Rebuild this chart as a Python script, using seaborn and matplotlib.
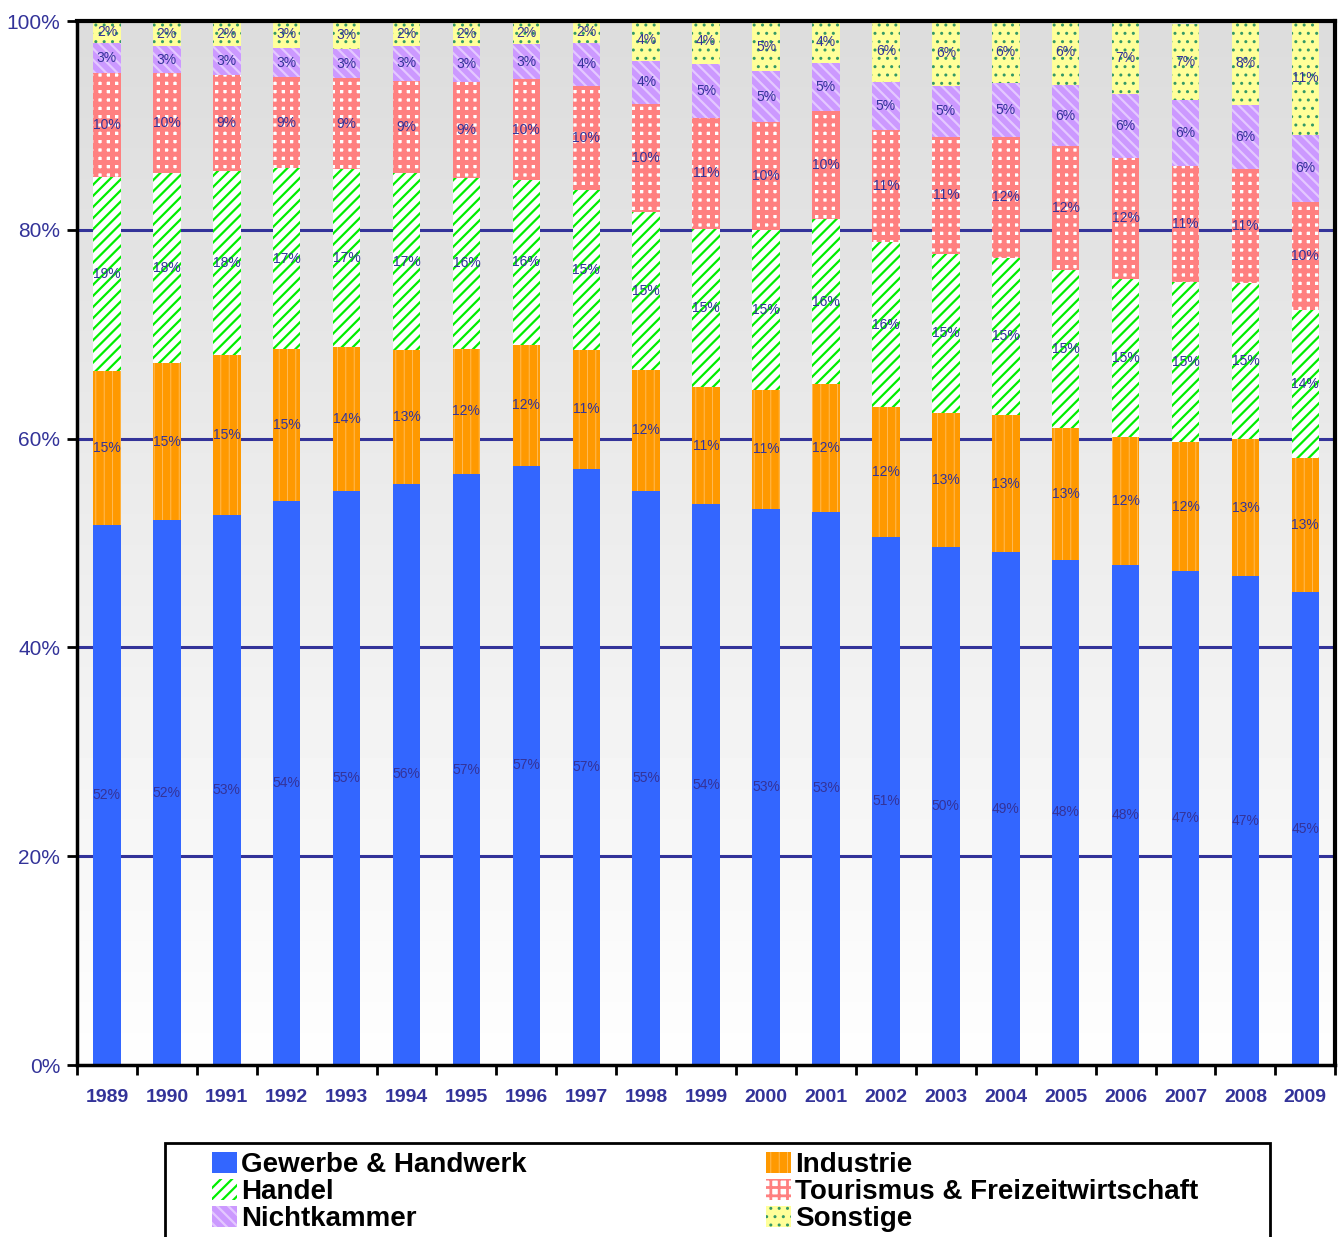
import numpy as np
import pandas as pd
import matplotlib
matplotlib.use("Agg")
import matplotlib.pyplot as plt
import seaborn as sns
from matplotlib.patches import Patch, Rectangle

# ---------------- data ----------------
years = [str(y) for y in range(1989, 2010)]
gewerbe = [51.7, 52.2, 52.7, 54.0, 55.0, 55.7, 56.6, 57.4, 57.1, 55.0, 53.7,
           53.3, 53.0, 50.6, 49.6, 49.1, 48.4, 47.9, 47.3, 46.8, 45.3]
industrie = [14.8, 15.0, 15.3, 14.6, 13.8, 12.8, 12.0, 11.6, 11.4, 11.6, 11.2,
             11.4, 12.2, 12.4, 12.9, 13.2, 12.6, 12.3, 12.4, 13.2, 12.8]
handel = [18.6, 18.2, 17.6, 17.3, 17.0, 16.9, 16.4, 15.8, 15.3, 15.1, 15.2,
          15.3, 15.8, 15.8, 15.2, 15.0, 15.2, 15.1, 15.3, 14.9, 14.2]
tourismus = [9.9, 9.6, 9.2, 8.7, 8.7, 8.9, 9.2, 9.6, 10.0, 10.4, 10.6,
             10.3, 10.4, 10.8, 11.2, 11.6, 11.8, 11.6, 11.1, 10.9, 10.4]
nichtkammer = [2.9, 2.6, 2.8, 2.8, 2.8, 3.3, 3.4, 3.4, 4.1, 4.1, 5.2,
               4.9, 4.6, 4.6, 4.9, 5.2, 5.9, 6.1, 6.3, 6.2, 6.4]
sonstige = [2.1, 2.4, 2.4, 2.7, 2.7, 2.4, 2.4, 2.1, 2.1, 3.9, 4.4,
            4.7, 3.9, 5.9, 6.2, 5.9, 6.2, 7.0, 7.3, 8.0, 10.8]
series_names = ["Gewerbe & Handwerk", "Industrie", "Handel",
                "Tourismus & Freizeitwirtschaft", "Nichtkammer", "Sonstige"]
series_values = [gewerbe, industrie, handel, tourismus, nichtkammer, sonstige]

# styles: facecolor, hatch color, hatch, hatch linewidth
styles = [
    ("#3366ff", "#3366ff", None, 0.0),
    ("#ff9900", "#ffc878", "||", 0.5),
    ("#ffffff", "#00ee00", "///", 1.6),
    ("#ffffff", "#ff8080", "++", 3.6),
    ("#cc99ff", "#e4c8ff", "\\\\\\", 1.6),
    ("#ffff99", "#339966", "..", 1.0),
]

navy = "#333399"

sns.set_theme(style="white")
plt.rcParams["font.family"] = ["Liberation Sans", "DejaVu Sans"]

fig = plt.figure(figsize=(13.38, 12.37), dpi=100)
ax = fig.add_axes([0.0575, 0.139, 0.9405, 0.844])

bottom = np.zeros(len(years))
for name, vals, (fc, hc, hatch, hlw) in zip(series_names, series_values, styles):
    n_before = len(ax.patches)
    if hatch:
        plt.rcParams["hatch.linewidth"] = hlw
    sns.barplot(x=years, y=vals, bottom=bottom.copy(), ax=ax, width=0.46,
                color=fc, saturation=1, errorbar=None, zorder=3)
    for p in ax.patches[n_before:]:
        p.set_facecolor(fc)
        p.set_edgecolor(hc)
        p.set_linewidth(0)
        if hatch:
            p.set_hatch(hatch)
            if hasattr(p, "set_hatch_linewidth"):
                p.set_hatch_linewidth(hlw)
    for i, v in enumerate(vals):
        ax.text(i, bottom[i] + v / 2, f"{v:.0f}%", ha="center", va="center",
                color=navy, fontsize=10, zorder=6)
    bottom = bottom + np.array(vals)

# gradient background
grad = np.linspace(220, 254, 256).reshape(-1, 1)
ax.imshow(grad, cmap="gray", vmin=0, vmax=255, extent=[-0.5, 20.5, 0, 100],
          aspect="auto", zorder=0, interpolation="bilinear")

for yv in [20, 40, 60, 80]:
    ax.axhline(yv, color=navy, lw=2.2, zorder=1)

ax.set_xlim(-0.5, 20.5)
ax.set_ylim(0, 100)
ax.set_xlabel("")
ax.set_ylabel("")

ax.set_yticks(range(0, 101, 20))
ax.set_yticklabels([f"{v}%" for v in range(0, 101, 20)], color=navy, fontsize=15)
ax.tick_params(axis="y", which="major", length=7, width=2, color="black",
               direction="out", left=True, pad=5)

ax.set_xticks(range(len(years)))
ax.set_xticklabels(years, color=navy, fontsize=14, fontweight="bold")
ax.set_xticks(np.arange(-0.5, len(years), 1), minor=True)
ax.tick_params(axis="x", which="major", length=0, pad=17)
ax.tick_params(axis="x", which="minor", length=7, width=2, color="black",
               direction="out", bottom=True)

for side, lw in [("left", 2.5), ("bottom", 2.5), ("top", 3.0), ("right", 3.0)]:
    ax.spines[side].set_visible(True)
    ax.spines[side].set_color("black")
    ax.spines[side].set_linewidth(lw)
    ax.spines[side].set_zorder(7)

# legend
handles = []
for name, (fc, hc, hatch, hlw) in zip(series_names, styles):
    if hatch:
        plt.rcParams["hatch.linewidth"] = min(hlw, 2.0)
    h = Patch(facecolor=fc, edgecolor=hc, hatch=hatch, linewidth=0, label=name)
    if hatch and hasattr(h, "set_hatch_linewidth"):
        h.set_hatch_linewidth(min(hlw, 2.0))
    handles.append(h)
order = [0, 2, 4, 1, 3, 5]
leg = fig.legend([handles[i] for i in order], [series_names[i] for i in order],
                 ncol=2, loc="upper left",
                 bbox_to_anchor=(212 / 1338, 1 - 1152 / 1237),
                 frameon=False, borderpad=0, borderaxespad=0,
                 prop={"weight": "bold", "size": 20}, labelcolor="black",
                 handlelength=0.9, handleheight=0.8, handletextpad=0.15,
                 labelspacing=0.02, columnspacing=8.6)
for lh, i in zip(leg.legend_handles, order):
    fc, hc, hatch, hlw = styles[i]
    if hatch and hasattr(lh, "set_hatch_linewidth"):
        lh.set_hatch_linewidth(min(hlw, 2.0))
fig.add_artist(Rectangle((165 / 1338, -0.05), (1270 - 165) / 1338,
                         0.05 + 1 - 1143 / 1237, transform=fig.transFigure,
                         fill=False, ec="black", lw=2))

fig.savefig("out.png", dpi=100)
